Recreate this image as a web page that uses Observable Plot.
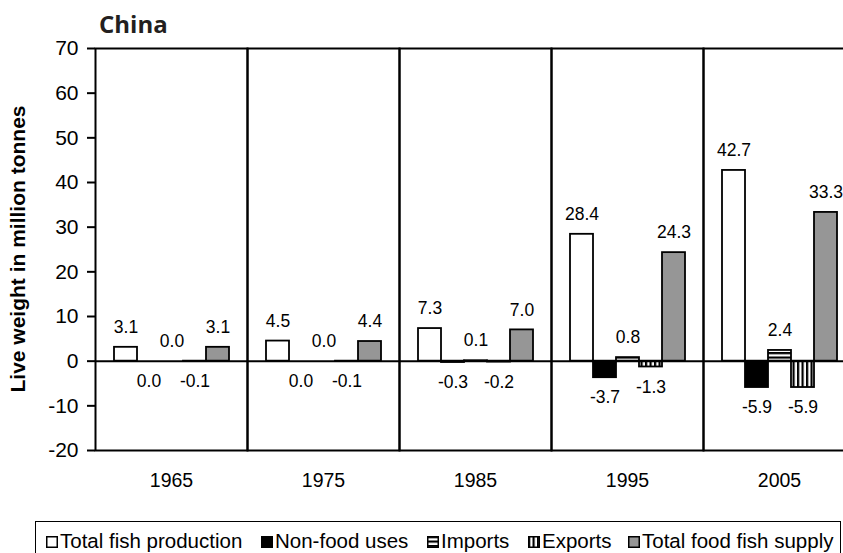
<!DOCTYPE html>
<html><head><meta charset="utf-8">
<script src="https://cdn.jsdelivr.net/npm/d3@7"></script>
<script src="https://cdn.jsdelivr.net/npm/@observablehq/plot@0.6"></script>
<style>
html,body{margin:0;padding:0;background:#fff;overflow:hidden;}
body{width:843px;height:553px;position:relative;font-family:"Liberation Sans",Arial,sans-serif;}
#title{height:28px;position:relative;z-index:2;}
#title span{position:absolute;left:99px;top:7px;font:bold 24px "Open Sans",sans-serif;color:#231f20;white-space:nowrap;}
#chart{position:relative;z-index:1;}
#legend{position:absolute;left:35px;top:521px;width:806px;height:45px;border:1.5px solid #000;box-sizing:border-box;}
.item{position:absolute;top:9px;font-size:20.5px;line-height:20px;white-space:nowrap;color:#000;}
.item svg{position:absolute;left:-14px;top:5px;}
</style></head><body>
<div id="title"><span>China</span></div>
<div id="chart"></div>
<div id="legend"></div>
<script>
const years = ["1965", "1975", "1985", "1995", "2005"];
const series = ["Total fish production", "Non-food uses", "Imports", "Exports", "Total food fish supply"];
const totalProduction = [3.1, 4.5, 7.3, 28.4, 42.7];
const nonFoodUses = [0.0, 0.0, -0.3, -3.7, -5.9];
const imports = [0.0, 0.0, 0.1, 0.8, 2.4];
const exportsV = [-0.1, -0.1, -0.2, -1.3, -5.9];
const totalFoodSupply = [3.1, 4.4, 7.0, 24.3, 33.3];
const yTicks = [-20, -10, 0, 10, 20, 30, 40, 50, 60, 70];

const valuesBySeries = [totalProduction, nonFoodUses, imports, exportsV, totalFoodSupply];
const fills = ["white", "black", "url(#hstripe)", "url(#vstripe)", "#969696"];
const labelBelow = [false, true, false, true, false];
const rows = [];
years.forEach((yr, i) => series.forEach((s, j) => rows.push({
  year: yr, series: s, value: valuesBySeries[j][i], fill: fills[j], below: labelBelow[j]
})));

const chart = Plot.plot({
  width: 843, height: 484,
  marginTop: 20, marginBottom: 62, marginLeft: 95, marginRight: -12,
  style: {fontFamily: "Liberation Sans, Arial, sans-serif", fontSize: "20px", color: "black", background: "none", overflow: "hidden"},
  fx: {domain: years, padding: 0},
  x: {domain: series, paddingInner: 0, paddingOuter: 0.7, axis: null},
  y: {domain: [-20, 70], axis: null},
  color: {type: "identity"},
  marks: [
    Plot.barY(rows, {fx: "year", x: "series", y: "value", fill: "fill", stroke: "black", strokeWidth: 1.8, inset: 0}),
    Plot.ruleY([0], {stroke: "black", strokeWidth: 2}),
    Plot.frame({stroke: "black", strokeWidth: 2}),
    Plot.text(rows.filter(d => !d.below), {fx: "year", x: "series", y: "value", text: d => d.value.toFixed(1), dy: -20, fontSize: 17.5, fill: "black"}),
    Plot.text(rows.filter(d => d.below), {fx: "year", x: "series", y: "value", text: d => d.value.toFixed(1), dy: 20, fontSize: 17.5, fill: "black"}),
    Plot.axisY({ticks: yTicks, tickSize: 8, tickPadding: 9, tickFormat: d => String(d), label: null, strokeWidth: 2, fontSize: 21}),
    Plot.axisFx({anchor: "bottom", tickSize: 0, tickPadding: 23, label: null, fontSize: 19.5})
  ]
});

const svg = d3.select(chart);
const defs = svg.insert("defs", ":first-child");
const hp = defs.append("pattern").attr("id", "hstripe").attr("patternUnits", "userSpaceOnUse").attr("width", 8).attr("height", 4.5);
hp.append("rect").attr("width", 8).attr("height", 4.5).attr("fill", "white");
hp.append("rect").attr("width", 8).attr("height", 2.2).attr("fill", "black");
const vp = defs.append("pattern").attr("id", "vstripe").attr("patternUnits", "userSpaceOnUse").attr("width", 4.5).attr("height", 8);
vp.append("rect").attr("width", 4.5).attr("height", 8).attr("fill", "white");
vp.append("rect").attr("width", 2.2).attr("height", 8).attr("fill", "black");

svg.append("text")
  .attr("transform", "translate(19,221) rotate(-90)")
  .attr("text-anchor", "middle").attr("dominant-baseline", "middle")
  .attr("font-weight", "bold").attr("font-size", 21)
  .attr("font-family", "Liberation Sans, Arial, sans-serif")
  .attr("fill", "black")
  .text("Live weight in million tonnes");

document.getElementById("chart").appendChild(chart);

const legendLeft = [24, 239, 405, 506, 606];
const legend = document.getElementById("legend");
series.forEach((s, j) => {
  const item = document.createElement("div");
  item.className = "item";
  item.style.left = legendLeft[j] + "px";
  item.innerHTML = `<svg width="12" height="12"><rect x="0.75" y="0.75" width="10.5" height="10.5" fill="${fills[j]}" stroke="black" stroke-width="1.5"/></svg>`;
  item.appendChild(document.createTextNode(s));
  legend.appendChild(item);
});
</script>
</body></html>
